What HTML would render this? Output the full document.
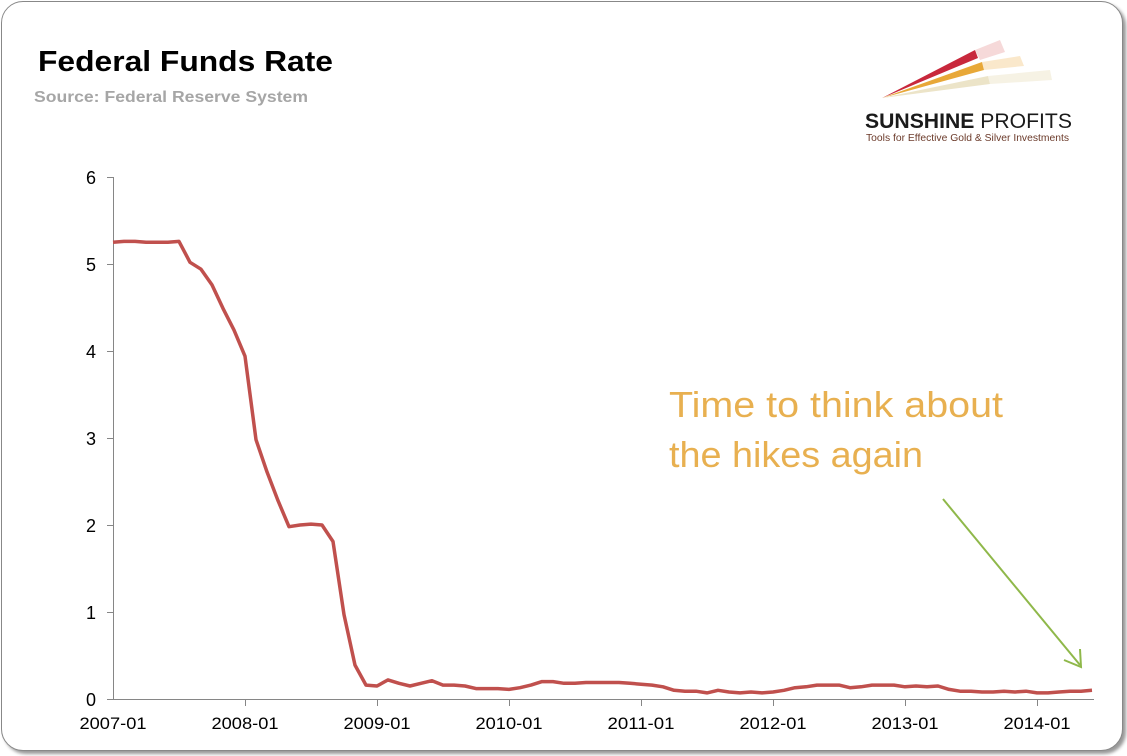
<!DOCTYPE html>
<html><head><meta charset="utf-8"><style>
body{margin:0;background:#fff;width:1127px;height:756px;overflow:hidden;font-family:"Liberation Sans",sans-serif}
.frame{position:absolute;left:1px;top:1px;width:1120px;height:748px;border:1.5px solid #888;border-radius:22px;box-shadow:3px 3px 3px #999;background:#fff}
</style></head><body>
<div class="frame"></div>
<svg width="1127" height="756" style="position:absolute;left:0;top:0">
<text x="38" y="71" font-size="29" font-weight="bold" fill="#000" textLength="295" lengthAdjust="spacingAndGlyphs">Federal Funds Rate</text>
<text x="34" y="102" font-size="16" font-weight="bold" fill="#a6a6a6" textLength="274" lengthAdjust="spacingAndGlyphs">Source: Federal Reserve System</text>
<polygon points="882,98 975,50 978,58" fill="#c8283c"/>
<polygon points="882,98 982,62 984,70" fill="#e8a838"/>
<polygon points="882,98 988,76 990,84" fill="#ece4c8"/>
<polygon points="975,50 1000,40 1005,52 980,60" fill="#f0c0c0" opacity=".6"/>
<polygon points="982,62 1020,56 1024,66 984,70" fill="#f6d8a8" opacity=".6"/>
<polygon points="988,76 1050,70 1052,80 990,84" fill="#f2ecd8" opacity=".7"/>
<text x="865" y="128" font-size="21" font-weight="bold" fill="#1a1a1a" textLength="207" lengthAdjust="spacingAndGlyphs">SUNSHINE <tspan font-weight="normal">PROFITS</tspan></text>
<text x="866" y="141" font-size="10.5" fill="#6b3a2a" textLength="203" lengthAdjust="spacingAndGlyphs">Tools for Effective Gold &amp; Silver Investments</text>
<g font-size="18" fill="#000" text-anchor="end">
<text x="96" y="184">6</text><text x="96" y="271">5</text><text x="96" y="358">4</text><text x="96" y="445">3</text><text x="96" y="532">2</text><text x="96" y="619">1</text><text x="96" y="706">0</text>
</g>
<g stroke="#868686" stroke-width="1">
<line x1="113.5" y1="177" x2="113.5" y2="699"/>
<line x1="113" y1="699.5" x2="1094" y2="699.5"/>
<line x1="107" y1="177.5" x2="113" y2="177.5"/><line x1="107" y1="264.5" x2="113" y2="264.5"/><line x1="107" y1="351.5" x2="113" y2="351.5"/><line x1="107" y1="438.5" x2="113" y2="438.5"/><line x1="107" y1="525.5" x2="113" y2="525.5"/><line x1="107" y1="612.5" x2="113" y2="612.5"/><line x1="107" y1="699.5" x2="113" y2="699.5"/>
<line x1="245.5" y1="699" x2="245.5" y2="706"/><line x1="377.5" y1="699" x2="377.5" y2="706"/><line x1="509.5" y1="699" x2="509.5" y2="706"/><line x1="641.5" y1="699" x2="641.5" y2="706"/><line x1="773.5" y1="699" x2="773.5" y2="706"/><line x1="905.5" y1="699" x2="905.5" y2="706"/><line x1="1037.5" y1="699" x2="1037.5" y2="706"/>
</g>
<g font-size="17" fill="#000" text-anchor="middle">
<text x="113" y="729" textLength="67" lengthAdjust="spacingAndGlyphs">2007-01</text><text x="245" y="729" textLength="67" lengthAdjust="spacingAndGlyphs">2008-01</text><text x="377" y="729" textLength="67" lengthAdjust="spacingAndGlyphs">2009-01</text><text x="509" y="729" textLength="67" lengthAdjust="spacingAndGlyphs">2010-01</text><text x="641" y="729" textLength="67" lengthAdjust="spacingAndGlyphs">2011-01</text><text x="773" y="729" textLength="67" lengthAdjust="spacingAndGlyphs">2012-01</text><text x="905" y="729" textLength="67" lengthAdjust="spacingAndGlyphs">2013-01</text><text x="1037" y="729" textLength="67" lengthAdjust="spacingAndGlyphs">2014-01</text>
</g>
<polyline id="ln" fill="none" stroke="#c0504d" stroke-width="3.5" stroke-linejoin="round"/>
<text x="669" y="417" font-size="36" fill="#e8b050" textLength="334" lengthAdjust="spacingAndGlyphs">Time to think about</text>
<text x="669" y="467" font-size="36" fill="#e8b050" textLength="254" lengthAdjust="spacingAndGlyphs">the hikes again</text>
<line x1="943" y1="499" x2="1080" y2="665" stroke="#8fb84a" stroke-width="2"/>
<polyline points="1064,660 1081,667 1080,649" fill="none" stroke="#8fb84a" stroke-width="2"/>
</svg>
<script>
var d=[5.25,5.26,5.26,5.25,5.25,5.25,5.26,5.02,4.94,4.76,4.49,4.24,3.94,2.98,2.61,2.28,1.98,2.00,2.01,2.00,1.81,0.97,0.39,0.16,0.15,0.22,0.18,0.15,0.18,0.21,0.16,0.16,0.15,0.12,0.12,0.12,0.11,0.13,0.16,0.20,0.20,0.18,0.18,0.19,0.19,0.19,0.19,0.18,0.17,0.16,0.14,0.10,0.09,0.09,0.07,0.10,0.08,0.07,0.08,0.07,0.08,0.10,0.13,0.14,0.16,0.16,0.16,0.13,0.14,0.16,0.16,0.16,0.14,0.15,0.14,0.15,0.11,0.09,0.09,0.08,0.08,0.09,0.08,0.09,0.07,0.07,0.08,0.09,0.09,0.10];
document.getElementById('ln').setAttribute('points',d.map(function(v,i){return (113+i*11)+','+(699-v*87).toFixed(1)}).join(' '));
</script>
</body></html>
